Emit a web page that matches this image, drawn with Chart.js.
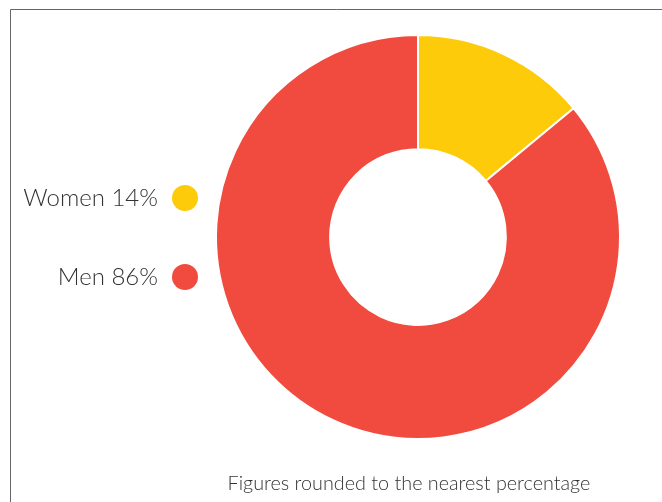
<!DOCTYPE html>
<html>
<head>
<meta charset="utf-8">
<script src="https://cdn.jsdelivr.net/npm/chart.js@4"></script>
<style>
  html, body { margin: 0; padding: 0; background: #fff; }
  #wrap { position: relative; width: 662px; height: 502px; }
</style>
</head>
<body>
<div id="wrap"><canvas id="c" width="662" height="502"></canvas></div>
<script>
// data
var labels = ['Women', 'Men'];
var values = [14, 86];
var colors = ['#FDCB0A', '#F04B3E'];
var note = 'Figures rounded to the nearest percentage';

// frame, side legend and footnote
var decor = {
  id: 'decor',
  beforeDraw: function(chart) {
    var ctx = chart.ctx;
    ctx.save();
    ctx.strokeStyle = '#666';
    ctx.lineWidth = 1;
    ctx.beginPath();
    ctx.moveTo(10.5, 502);
    ctx.lineTo(10.5, 9.5);
    ctx.lineTo(662, 9.5);
    ctx.stroke();
    ctx.restore();
  },
  afterDraw: function(chart) {
    var ctx = chart.ctx;
    ctx.save();
    ctx.font = '300 24px Lato, "Open Sans", sans-serif';
    ctx.fillStyle = '#333';
    ctx.textAlign = 'right';
    ctx.textBaseline = 'middle';
    var ys = [198, 277];
    labels.forEach(function(lab, i) {
      ctx.fillText(lab + ' ' + values[i] + '%', 158, ys[i]);
      ctx.beginPath();
      ctx.fillStyle = colors[i];
      ctx.arc(185, ys[i], 13, 0, Math.PI * 2);
      ctx.fill();
      ctx.fillStyle = '#333';
    });
    ctx.font = '300 19.8px Lato, "Open Sans", sans-serif';
    ctx.textAlign = 'center';
    ctx.fillText(note, 409, 484);
    ctx.restore();
  }
};

var chart = new Chart(document.getElementById('c'), {
  type: 'doughnut',
  data: {
    labels: labels,
    datasets: [{
      data: values,
      backgroundColor: colors,
      borderColor: '#fff',
      borderWidth: 2,
      hoverOffset: 0
    }]
  },
  options: {
    responsive: false,
    animation: false,
    cutout: '43.5%',
    layout: { padding: { left: 215, right: 41, top: 34, bottom: 62 } },
    plugins: {
      legend: { display: false },
      tooltip: { enabled: false }
    },
    events: []
  },
  plugins: [decor]
});
</script>
</body>
</html>
